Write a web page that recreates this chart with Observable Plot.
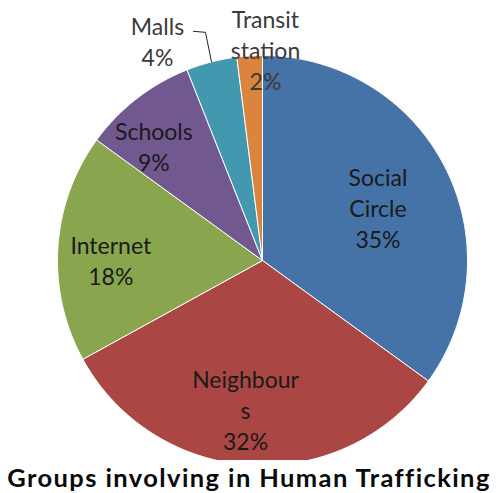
<!DOCTYPE html>
<html>
<head>
<meta charset="utf-8">
<script src="https://cdn.jsdelivr.net/npm/d3@7"></script>
<script src="https://cdn.jsdelivr.net/npm/@observablehq/plot@0.6"></script>
<style>
  html, body { margin: 0; padding: 0; background: #fff; }
  #title { width: 498px; text-align: center; font-family: Lato, "Open Sans", sans-serif; font-weight: bold; font-size: 25.5px; letter-spacing: 1.4px; color: #0a0a0a; line-height: 30px; margin-top: 2px; white-space: nowrap; }
</style>
</head>
<body>
<div id="chart"></div>
<div id="title">Groups involving in Human Trafficking</div>
<script>
// ---- data ----
const categories = ["Social Circle", "Neighbours", "Internet", "Schools", "Malls", "Transit station"];
const values = [35, 32, 18, 9, 4, 2];
const labelNames = ["Social\nCircle", "Neighbour\ns", "Internet", "Schools", "Malls", "Transit\nstation"];
const colors = ["#4572A7", "#AA4643", "#89A54E", "#71588F", "#4198AF", "#DB843D"];

// ---- layout (label placement in polar terms, relative to each slice) ----
const labelAngleShift = [2.3, 2.9, -3.2, -5.7, -11.1, 4.4]; // degrees from slice mid-angle
const labelRadius = [0.62, 0.73, 0.74, 0.77, 1.19, 1.03];   // fraction of pie radius
const R = 205, CX = 262, CY = 260, W = 498, H = 460;

const pie = d3.pie().sort(null).value(d => d)(values);

// slice polygons
const slicePts = [];
pie.forEach((p, i) => {
  const n = Math.max(2, Math.ceil((p.endAngle - p.startAngle) / 0.01));
  slicePts.push({cat: categories[i], x: 0, y: 0});
  for (let k = 0; k <= n; k++) {
    const a = p.startAngle + (p.endAngle - p.startAngle) * k / n;
    slicePts.push({cat: categories[i], x: Math.sin(a), y: Math.cos(a)});
  }
  slicePts.push({cat: categories[i], x: 0, y: 0});
});

// labels
const labels = pie.map((p, i) => {
  const mid = (p.startAngle + p.endAngle) / 2 + labelAngleShift[i] * Math.PI / 180;
  return {
    text: labelNames[i] + "\n" + values[i] + "%",
    x: labelRadius[i] * Math.sin(mid),
    y: labelRadius[i] * Math.cos(mid),
    outside: labelRadius[i] > 1
  };
});

// leader line for Malls (index 4): label -> slice edge at mid-angle
const mi = 4;
const mMid = (pie[mi].startAngle + pie[mi].endAngle) / 2;
const lab = labels[mi];
const leader = [
  {x: lab.x + 36 / R, y: lab.y + 9 / R},
  {x: lab.x + 48 / R, y: lab.y + 8 / R},
  {x: Math.sin(mMid) * 1.0, y: Math.cos(mMid) * 1.0}
];

const chart = Plot.plot({
  width: W,
  height: H,
  margin: 0,
  x: {domain: [-CX / R, (W - CX) / R], axis: null},
  y: {domain: [-(H - CY) / R, CY / R], axis: null},
  color: {domain: categories, range: colors},
  style: {background: "#fff"},
  marks: [
    Plot.line(slicePts, {x: "x", y: "y", z: "cat", fill: "cat", stroke: "#fff", strokeWidth: 1, strokeLinejoin: "round"}),
    Plot.line(leader, {x: "x", y: "y", stroke: "#222", strokeWidth: 1}),
    Plot.text(labels, {x: "x", y: "y", text: "text", fontSize: 23, lineHeight: 1.34,
      fontFamily: "Lato, 'Open Sans', sans-serif", fill: d => d.outside ? "#3a3a3a" : "#1a1a1a"})
  ]
});
document.getElementById("chart").appendChild(chart);
</script>
</body>
</html>
